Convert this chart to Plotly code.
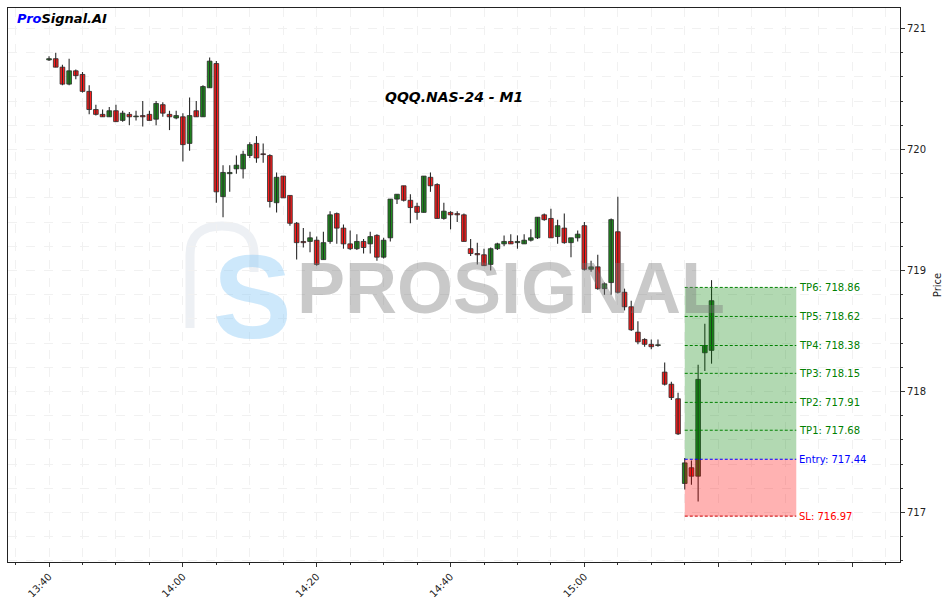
import plotly.graph_objects as go
import pandas as pd

# ---------------- data ----------------
start_time = "2024-01-01 13:40"
opens = [720.74, 720.75, 720.68, 720.54, 720.65, 720.62, 720.48, 720.33, 720.29, 720.27,
         720.32, 720.24, 720.29, 720.27, 720.28, 720.29, 720.25, 720.37, 720.29, 720.26,
         720.27, 720.05, 720.32, 720.27, 720.51, 720.71, 719.61, 719.80, 719.84, 719.84,
         719.95, 720.05, 719.96, 719.95, 719.56, 719.78, 719.62, 719.39, 719.24, 719.24,
         719.25, 719.09, 719.24, 719.47, 719.35, 719.22, 719.18, 719.24, 719.22, 719.29,
         719.11, 719.27, 719.59, 719.70, 719.58, 719.53, 719.48, 719.77, 719.71, 719.43,
         719.48, 719.47, 719.46, 719.18, 719.14, 719.13, 719.05, 719.18, 719.22, 719.24,
         719.23, 719.22, 719.25, 719.27, 719.46, 719.43, 719.28, 719.35, 719.23, 719.27,
         719.37, 719.01, 719.03, 718.85, 718.90, 719.32, 718.82, 718.70, 718.49, 718.43,
         718.39, 718.38, 718.16, 718.06, 717.94, 717.24, 717.37, 717.30, 718.32, 718.34]
highs = [720.77, 720.80, 720.70, 720.75, 720.66, 720.64, 720.53, 720.37, 720.33, 720.35,
         720.37, 720.32, 720.31, 720.32, 720.40, 720.32, 720.40, 720.39, 720.32, 720.32,
         720.30, 720.43, 720.40, 720.53, 720.76, 720.73, 719.87, 719.87, 719.95, 719.99,
         720.06, 720.11, 720.05, 719.96, 719.81, 719.78, 719.62, 719.40, 719.35, 719.32,
         719.28, 719.32, 719.49, 719.48, 719.38, 719.33, 719.30, 719.26, 719.32, 719.30,
         719.27, 719.59, 719.63, 719.70, 719.63, 719.56, 719.78, 719.81, 719.72, 719.56,
         719.49, 719.49, 719.47, 719.26, 719.23, 719.18, 719.19, 719.23, 719.29, 719.30,
         719.29, 719.30, 719.34, 719.44, 719.47, 719.51, 719.42, 719.47, 719.27, 719.33,
         719.40, 719.08, 719.13, 718.90, 719.43, 719.61, 718.85, 718.75, 718.58, 718.44,
         718.43, 718.43, 718.24, 718.08, 717.99, 717.45, 717.43, 718.22, 718.56, 718.92]
lows = [720.73, 720.68, 720.53, 720.53, 720.58, 720.47, 720.29, 720.28, 720.27, 720.27,
        720.23, 720.23, 720.20, 720.24, 720.19, 720.24, 720.20, 720.27, 720.16, 720.25,
        719.90, 719.99, 720.27, 720.27, 720.51, 719.56, 719.44, 719.65, 719.80, 719.76,
        719.93, 719.89, 719.89, 719.52, 719.48, 719.60, 719.37, 719.09, 719.19, 719.15,
        719.04, 719.09, 719.22, 719.22, 719.18, 719.17, 719.17, 719.14, 719.14, 719.08,
        719.10, 719.24, 719.55, 719.57, 719.39, 719.42, 719.48, 719.65, 719.43, 719.42,
        719.34, 719.40, 719.24, 719.12, 719.05, 719.04, 719.00, 719.17, 719.20, 719.22,
        719.18, 719.22, 719.24, 719.26, 719.41, 719.27, 719.22, 719.22, 719.11, 719.24,
        719.00, 718.99, 718.84, 718.80, 718.80, 718.81, 718.67, 718.50, 718.39, 718.37,
        718.35, 718.37, 718.05, 717.93, 717.64, 717.19, 717.23, 717.09, 718.17, 718.23]
closes = [720.75, 720.68, 720.54, 720.65, 720.61, 720.48, 720.33, 720.29, 720.27, 720.32,
          720.23, 720.30, 720.27, 720.272, 720.27, 720.24, 720.38, 720.30, 720.27, 720.28,
          720.04, 720.28, 720.27, 720.52, 720.73, 719.65, 719.81, 719.81, 719.87, 719.96,
          720.04, 719.93, 719.958, 719.57, 719.77, 719.60, 719.39, 719.23, 719.23, 719.27,
          719.05, 719.23, 719.46, 719.35, 719.22, 719.18, 719.24, 719.19, 719.28, 719.11,
          719.25, 719.59, 719.63, 719.58, 719.52, 719.48, 719.78, 719.70, 719.43, 719.49,
          719.46, 719.46, 719.24, 719.14, 719.13, 719.04, 719.18, 719.22, 719.24, 719.22,
          719.24, 719.25, 719.27, 719.44, 719.42, 719.27, 719.37, 719.23, 719.27, 719.30,
          719.01, 719.03, 718.85, 718.89, 719.42, 718.82, 718.70, 718.51, 718.41, 718.39,
          718.37, 718.385, 718.06, 717.95, 717.65, 717.41, 717.30, 718.10, 718.38, 718.75]

entry_price = 717.44
sl_price = 716.97
tp_names = ["TP1", "TP2", "TP3", "TP4", "TP5", "TP6"]
tp_prices = [717.68, 717.91, 718.15, 718.38, 718.62, 718.86]
zone_start = "2024-01-01 15:15:00"
zone_end = "2024-01-01 15:31:40"

x_tick_vals = ["2024-01-01 13:40", "2024-01-01 14:00", "2024-01-01 14:20", "2024-01-01 14:40",
               "2024-01-01 15:00", "2024-01-01 15:20", "2024-01-01 15:40"]
x_tick_text = ["13:40", "14:00", "14:20", "14:40", "15:00", "", ""]
y_tick_vals = [717, 718, 719, 720, 721]
x_range = ["2024-01-01 13:33:52", "2024-01-01 15:47:10"]
y_range = [716.591, 721.169]

title_text = "QQQ.NAS-24 - M1"

# ---------------- figure ----------------
times = pd.date_range(start_time, periods=len(opens), freq="min")

GREEN = "#1e8c1e"
RED = "#ff1c1c"
EDGE = "#2a2a2a"

wx, wy = [], []
for t, h, l in zip(times, highs, lows):
    wx += [t, t, None]
    wy += [l, h, None]

bases = [min(o, c) for o, c in zip(opens, closes)]
heights = [max(abs(c - o), 0.006) for o, c in zip(opens, closes)]
colors = [GREEN if c >= o else RED for o, c in zip(opens, closes)]

fig = go.Figure()
fig.add_trace(go.Scatter(x=wx, y=wy, mode="lines", line=dict(color=EDGE, width=1.1),
                         hoverinfo="skip", showlegend=False))
fig.add_trace(go.Bar(x=times, y=heights, base=bases, width=42000,
                     marker=dict(color=colors, line=dict(color=EDGE, width=0.8)),
                     hoverinfo="skip", showlegend=False))

W, H = 947, 603
ML, MR, MT, MB = 8, 47, 8, 41
PW, PH = W - ML - MR, H - MT - MB


def px(xp):
    return (xp - ML) / PW


def py(yp):
    return 1 - (yp - MT) / PH


shapes = []
# logo arch (decorative)
shapes.append(dict(type="path", xref="paper", yref="paper",
                   path=f"M {px(190)},{py(328)} L {px(190)},{py(255)} Q {px(190)},{py(226)} {px(222)},{py(226)} "
                        f"Q {px(254)},{py(226)} {px(254)},{py(255)} L {px(254)},{py(272)}",
                   line=dict(color="rgba(220,226,233,0.5)", width=9), layer="below"))
# zones
shapes.append(dict(type="rect", xref="x", yref="y", x0=zone_start, x1=zone_end,
                   y0=entry_price, y1=tp_prices[-1], fillcolor="rgba(0,128,0,0.3)",
                   line=dict(width=0), layer="above"))
shapes.append(dict(type="rect", xref="x", yref="y", x0=zone_start, x1=zone_end,
                   y0=sl_price, y1=entry_price, fillcolor="rgba(255,0,0,0.3)",
                   line=dict(width=0), layer="above"))
for p in tp_prices:
    shapes.append(dict(type="line", xref="x", yref="y", x0=zone_start, x1=zone_end, y0=p, y1=p,
                       line=dict(color="#008000", width=1, dash="3px,2px"), layer="above"))
shapes.append(dict(type="line", xref="x", yref="y", x0=zone_start, x1=zone_end, y0=entry_price, y1=entry_price,
                   line=dict(color="#0000ff", width=1, dash="3px,2px"), layer="above"))
shapes.append(dict(type="line", xref="x", yref="y", x0=zone_start, x1=zone_end, y0=sl_price, y1=sl_price,
                   line=dict(color="#cc0000", width=1, dash="3px,2px"), layer="above"))

ann = []
for n, p in zip(tp_names, tp_prices):
    ann.append(dict(x=zone_end, y=p, xref="x", yref="y", text=f"{n}: {p:.2f}", showarrow=False,
                    xanchor="left", yanchor="middle", xshift=1,
                    font=dict(family="DejaVu Sans", size=10, color="#008000")))
ann.append(dict(x=zone_end, y=entry_price, xref="x", yref="y", text=f"Entry: {entry_price:.2f}", showarrow=False,
                xanchor="left", yanchor="middle", xshift=1,
                font=dict(family="DejaVu Sans", size=10, color="#0000ff")))
ann.append(dict(x=zone_end, y=sl_price, xref="x", yref="y", text=f"SL: {sl_price:.2f}", showarrow=False,
                xanchor="left", yanchor="middle", xshift=1,
                font=dict(family="DejaVu Sans", size=10, color="#ff0000")))
# watermark
ann.append(dict(x=px(252), y=py(297), xref="paper", yref="paper", text="<b>S</b>", showarrow=False,
                xanchor="center", yanchor="middle",
                font=dict(family="Liberation Sans", size=118, color="rgba(135,200,245,0.42)")))
ann.append(dict(x=px(511), y=py(288), xref="paper", yref="paper", text="<b>PROSIGNAL</b>", showarrow=False,
                xanchor="center", yanchor="middle",
                font=dict(family="Liberation Sans", size=72, color="rgba(120,120,120,0.40)")))
# title and brand
ann.append(dict(x=0.5, y=py(97), xref="paper", yref="paper", text=f"<b><i>{title_text}</i></b>",
                showarrow=False, xanchor="center", yanchor="middle",
                font=dict(family="DejaVu Sans", size=14, color="black")))
ann.append(dict(x=px(15), y=py(19), xref="paper", yref="paper",
                text="<b><i><span style='color:#0000ff'>Pro</span>Signal.AI</i></b>",
                showarrow=False, xanchor="left", yanchor="middle",
                font=dict(family="DejaVu Sans", size=13, color="black")))

GRID = "#f1f1f1"
fig.update_layout(
    width=W, height=H, margin=dict(l=ML, r=MR, t=MT, b=MB, autoexpand=False),
    paper_bgcolor="white", plot_bgcolor="white", showlegend=False,
    shapes=shapes, annotations=ann,
    xaxis=dict(type="date", range=x_range, tickmode="array", tickvals=x_tick_vals, ticktext=x_tick_text,
               tickangle=-45, ticks="outside", ticklen=4, tickcolor="#333",
               tickfont=dict(family="DejaVu Sans", size=10, color="#222"),
               showline=True, linecolor="#222", linewidth=1, mirror=True,
               showgrid=True, gridcolor=GRID, griddash="dash", gridwidth=1, zeroline=False,
               minor=dict(tickmode="linear", tick0="2024-01-01 13:40", dtick=300000, ticks="outside",
                          ticklen=2, tickcolor="#333", showgrid=True, gridcolor=GRID, griddash="dash")),
    yaxis=dict(side="right", range=y_range, tickmode="array", tickvals=y_tick_vals,
               ticks="outside", ticklen=4, tickcolor="#333",
               tickfont=dict(family="DejaVu Sans", size=10, color="#222"),
               showline=True, linecolor="#222", linewidth=1, mirror=True,
               showgrid=True, gridcolor=GRID, griddash="dash", gridwidth=1, zeroline=False,
               title=dict(text="Price", font=dict(family="DejaVu Sans", size=10, color="#222"), standoff=8),
               minor=dict(tickmode="linear", tick0=717, dtick=0.2, ticks="outside", ticklen=2,
                          tickcolor="#333", showgrid=True, gridcolor=GRID, griddash="dash")),
)

fig.write_html("out.html", config={"displayModeBar": False},
               post_script="document.body.style.margin='0';document.body.style.overflow='hidden';")
